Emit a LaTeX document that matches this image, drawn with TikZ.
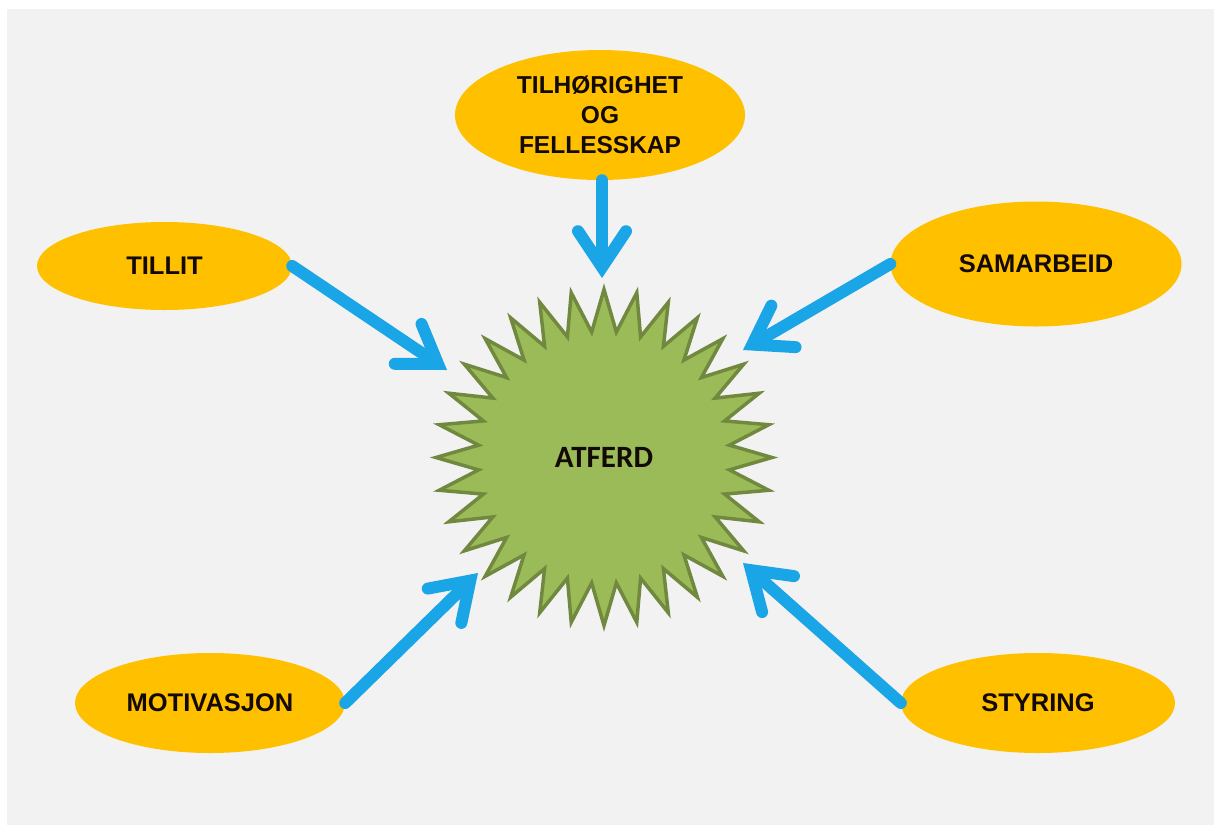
\documentclass[tikz,border=0pt]{standalone}
\usepackage{fontspec}
\setmainfont{Liberation Sans}
\newfontfamily\calibrifont{Carlito}
\usetikzlibrary{shapes.geometric,arrows.meta}
\definecolor{bg}{HTML}{F2F2F2}
\definecolor{gold}{HTML}{FFC000}
\definecolor{olivefill}{HTML}{9BBB59}
\definecolor{olivedark}{HTML}{71893F}
\definecolor{arrowblue}{HTML}{1AA5E6}
\definecolor{textdark}{HTML}{140A05}
\begin{document}
\begin{tikzpicture}[x=1pt,y=-1pt,
  oval/.style={ellipse, fill=gold, inner sep=0pt, align=center, text=textdark,
    font=\bfseries\fontsize{25.5}{30}\selectfont},
  link/.style={draw=arrowblue, line width=12pt, line cap=round,
    -{Straight Barb[length=36pt, width=48pt, line cap=round, line join=miter]}}
]
\useasboundingbox (0,0) rectangle (1214,825);
\fill[white] (0,0) rectangle (1214,825);
\fill[bg] (7,9) rectangle (1214,825);

\node[star, star points=32, star point ratio=1.3333, minimum size=336pt,
  fill=olivefill, draw=olivedark, line width=3.5pt, inner sep=0pt, text=textdark,
  font=\calibrifont\bfseries\fontsize{31}{36}\selectfont] (atferd) at (604,457.5) {ATFERD};

\node[oval, minimum width=255pt, minimum height=88pt] (tillit) at (164.5,266) {TILLIT};
\node[oval, minimum width=290pt, minimum height=130pt,
  font=\bfseries\fontsize{24.5}{30}\selectfont] (tilh) at (600,115) {TILHØRIGHET\\OG\\FELLESSKAP};
\node[oval, minimum width=291pt, minimum height=125pt] (samarbeid) at (1036,264) {SAMARBEID};
\node[oval, minimum width=270pt, minimum height=100pt] (motiv) at (210,703) {MOTIVASJON};
\node[oval, minimum width=274pt, minimum height=100pt] (styring) at (1038,703) {STYRING};

\coordinate (tipA) at (447,370);
\coordinate (tipB) at (602,278);
\coordinate (tipC) at (743,350);
\coordinate (tipD) at (478,573);
\coordinate (tipE) at (743,563);

\draw[link] (tillit.east) -- (tipA);
\draw[link] (tilh.south -| tipB) -- (tipB);
\draw[link] (samarbeid.west) -- (tipC);
\draw[link] (motiv.east) -- (tipD);
\draw[link] (styring.west) -- (tipE);
\end{tikzpicture}
\end{document}
